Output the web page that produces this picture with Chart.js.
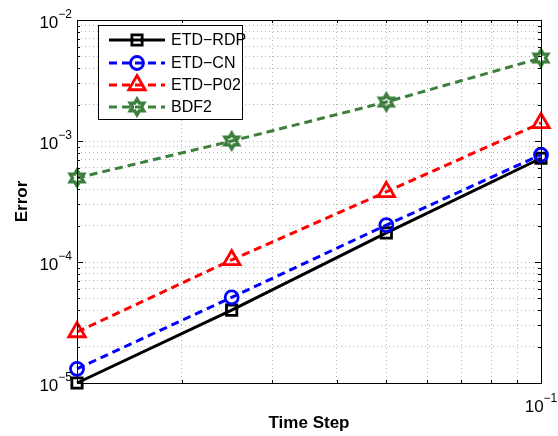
<!DOCTYPE html>
<html>
<head>
<meta charset="utf-8">
<script src="https://cdn.jsdelivr.net/npm/chart.js@4.4.1/dist/chart.umd.min.js"></script>
<style>
  html, body { margin: 0; padding: 0; background: #fff; }
  #wrap { width: 558px; height: 436px; }
</style>
</head>
<body>
<div id="wrap"><canvas id="errChart" width="558" height="436"></canvas></div>
<script>
// Data
const timeSteps = [0.0125, 0.025, 0.05, 0.1];
const errRDP = [1.0e-5, 4.0e-5, 1.74e-4, 7.2e-4];
const errCN = [1.31e-5, 5.1e-5, 2.02e-4, 7.7e-4];
const errP02 = [2.64e-5, 1.04e-4, 3.8e-4, 1.41e-3];
const errBDF2 = [4.95e-4, 1.0e-3, 2.1e-3, 4.85e-3];
const seriesNames = ['ETD\u2212RDP', 'ETD\u2212CN', 'ETD\u2212P02', 'BDF2'];

// Axis ticks
const yMajorTicks = [1e-5, 1e-4, 1e-3, 1e-2];
const yTickExponents = ['\u22125', '\u22124', '\u22123', '\u22122'];
const xMajorTicks = [0.1];
const xTickExponents = ['\u22121'];
const xGridTicks = [0.02, 0.03, 0.04, 0.05, 0.06, 0.07, 0.08, 0.09, 0.1];

const yGridTicks = [];
for (let i = 0; i < yMajorTicks.length - 1; i++) {
  for (let m = 1; m <= 9; m++) yGridTicks.push(m * yMajorTicks[i]);
}
yGridTicks.push(yMajorTicks[yMajorTicks.length - 1]);

const green = '#3d7f3d';

// hexagram marker
function makeHexagram(color) {
  const c = document.createElement('canvas');
  c.width = 22; c.height = 22;
  const g = c.getContext('2d');
  const R = 7.8, r = R / Math.sqrt(3);
  g.beginPath();
  for (let k = 0; k < 12; k++) {
    const a = -Math.PI / 2 + k * Math.PI / 6;
    const rr = k % 2 === 0 ? R : r;
    const px = 11 + rr * Math.cos(a), py = 11 + rr * Math.sin(a);
    if (k === 0) g.moveTo(px, py); else g.lineTo(px, py);
  }
  g.closePath();
  g.strokeStyle = color;
  g.lineWidth = 3.4;
  g.lineJoin = 'miter';
  g.stroke();
  return c;
}
const hexagram = makeHexagram(green);

function pts(ys) {
  return timeSteps.map((x, i) => ({ x: x, y: ys[i] }));
}

const datasets = [
  { label: seriesNames[0], data: pts(errRDP), borderColor: '#000', borderDash: [],
    pointStyle: 'rect', pointRadius: 7.3, order: 4 },
  { label: seriesNames[1], data: pts(errCN), borderColor: '#0000ff', borderDash: [8, 5],
    pointStyle: 'circle', pointRadius: 6.5, order: 3 },
  { label: seriesNames[2], data: pts(errP02), borderColor: '#ff0000', borderDash: [8, 5],
    pointStyle: 'triangle', pointRadius: 9.5, order: 2 },
  { label: seriesNames[3], data: pts(errBDF2), borderColor: green, borderDash: [8, 5],
    pointStyle: hexagram, pointRadius: 11, order: 1 }
].map(d => Object.assign({
  borderWidth: 3,
  pointBorderColor: d.borderColor,
  pointBackgroundColor: 'rgba(0,0,0,0)',
  pointBorderWidth: 2.8,
  pointHoverRadius: d.pointRadius,
  tension: 0,
  fill: false,
  clip: false
}, d));

function supLabel(ctx, x, y, base, exp, align) {
  ctx.font = '17px "Liberation Sans", Arial, sans-serif';
  const bw = ctx.measureText(base).width;
  ctx.font = '12px "Liberation Sans", Arial, sans-serif';
  const ew = ctx.measureText(exp).width;
  let left = align === 'right' ? x - bw - ew : x - (bw + ew) / 2;
  ctx.fillStyle = '#000';
  ctx.textBaseline = 'alphabetic';
  ctx.textAlign = 'left';
  ctx.font = '17px "Liberation Sans", Arial, sans-serif';
  ctx.fillText(base, left, y);
  ctx.font = '12px "Liberation Sans", Arial, sans-serif';
  ctx.fillText(exp, left + bw, y - 10);
}

const axesPlugin = {
  id: 'matlabAxes',
  afterDatasetsDraw(chart) {
    const { ctx, chartArea: a, scales } = chart;
    const xs = scales.x, ys = scales.y;
    ctx.save();
    ctx.strokeStyle = '#000';
    ctx.lineWidth = 1;
    ctx.setLineDash([]);
    // inward tick marks
    ctx.beginPath();
    yGridTicks.forEach(v => {
      const py = Math.round(ys.getPixelForValue(v)) + 0.5;
      const len = yMajorTicks.includes(v) ? 6 : 3;
      ctx.moveTo(a.left, py); ctx.lineTo(a.left + len, py);
      ctx.moveTo(a.right, py); ctx.lineTo(a.right - len, py);
    });
    xGridTicks.forEach(v => {
      const px = Math.round(xs.getPixelForValue(v)) + 0.5;
      const len = xMajorTicks.includes(v) ? 6 : 3;
      ctx.moveTo(px, a.bottom); ctx.lineTo(px, a.bottom - len);
      ctx.moveTo(px, a.top); ctx.lineTo(px, a.top + len);
    });
    ctx.stroke();
    // box
    ctx.strokeRect(Math.round(a.left) + 0.5, Math.round(a.top) + 0.5,
      Math.round(a.right - a.left), Math.round(a.bottom - a.top));
    ctx.restore();
  },
  afterDraw(chart) {
    const { ctx, chartArea: a, scales } = chart;
    const xs = scales.x, ys = scales.y;
    ctx.save();
    // tick labels
    yMajorTicks.forEach((v, i) => {
      const py = ys.getPixelForValue(v);
      supLabel(ctx, a.left - 5, py + 8, '10', yTickExponents[i], 'right');
    });
    xMajorTicks.forEach((v, i) => {
      const px = xs.getPixelForValue(v);
      supLabel(ctx, px, a.bottom + 29, '10', xTickExponents[i], 'center');
    });
    // axis titles
    ctx.fillStyle = '#000';
    ctx.font = 'bold 17px "Liberation Sans", Arial, sans-serif';
    ctx.textAlign = 'center';
    ctx.textBaseline = 'middle';
    ctx.fillText('Time Step', (a.left + a.right) / 2, 423);
    ctx.translate(22, (a.top + a.bottom) / 2);
    ctx.rotate(-Math.PI / 2);
    ctx.fillText('Error', 0, 0);
    ctx.restore();

    // legend
    ctx.save();
    const lx = 98, ly = 25, lw = 144, lh = 94;
    ctx.fillStyle = '#fff';
    ctx.fillRect(lx, ly, lw, lh);
    ctx.strokeStyle = '#000';
    ctx.lineWidth = 1;
    ctx.strokeRect(lx + 0.5, ly + 0.5, lw, lh);
    const rowY = [40, 63, 85, 107];
    chart.data.datasets.forEach((ds, i) => {
      const y = rowY[i];
      ctx.strokeStyle = ds.borderColor;
      ctx.lineWidth = ds.borderWidth;
      ctx.setLineDash(ds.borderDash);
      ctx.beginPath();
      ctx.moveTo(109, y); ctx.lineTo(165, y);
      ctx.stroke();
      ctx.setLineDash([]);
      ctx.fillStyle = 'rgba(0,0,0,0)';
      ctx.lineWidth = ds.pointBorderWidth;
      Chart.helpers.drawPoint(ctx, {
        pointStyle: ds.pointStyle, radius: ds.pointRadius,
        borderWidth: ds.pointBorderWidth, rotation: 0
      }, 137, y);
      ctx.fillStyle = '#000';
      ctx.font = '16px "Liberation Sans", Arial, sans-serif';
      ctx.textAlign = 'left';
      ctx.textBaseline = 'middle';
      ctx.fillText(ds.label, 171, y + 1);
    });
    ctx.restore();
  }
};

new Chart(document.getElementById('errChart').getContext('2d'), {
  type: 'line',
  data: { datasets: datasets },
  options: {
    responsive: false,
    animation: false,
    layout: { padding: { left: 0, right: 17, top: 20, bottom: 0 } },
    plugins: { legend: { display: false }, tooltip: { enabled: false } },
    scales: {
      x: {
        type: 'logarithmic',
        min: 0.0125,
        max: 0.1,
        afterBuildTicks: s => { s.ticks = xGridTicks.map(v => ({ value: v })); },
        afterFit: s => { s.height = 53; },
        ticks: { display: false, autoSkip: false },
        grid: { color: '#b4b4b4', lineWidth: 1, drawTicks: false },
        border: { display: false, dash: [1, 3] }
      },
      y: {
        type: 'logarithmic',
        min: 1e-5,
        max: 1e-2,
        afterBuildTicks: s => { s.ticks = yGridTicks.map(v => ({ value: v })); },
        afterFit: s => { s.width = 77; },
        ticks: { display: false, autoSkip: false },
        grid: { color: '#b4b4b4', lineWidth: 1, drawTicks: false },
        border: { display: false, dash: [1, 3] }
      }
    }
  },
  plugins: [axesPlugin]
});
</script>
</body>
</html>
